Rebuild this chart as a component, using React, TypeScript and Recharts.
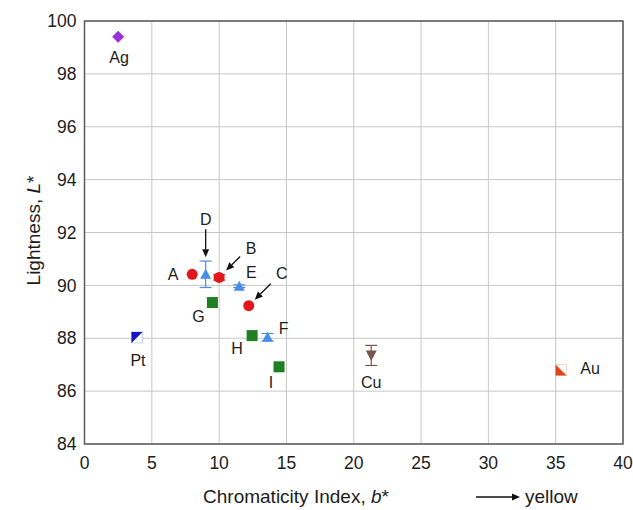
import { ScatterChart, Scatter, XAxis, YAxis, CartesianGrid, ErrorBar, ReferenceArea, Label } from 'recharts';

// b* (x) and L* (y)
const redNames = ['A', 'B', 'C'];
const redB = [8.0, 10.0, 12.2];
const redL = [90.42, 90.3, 89.23];
const redErr = [0, 0.1, 0];

const blueNames = ['D', 'E', 'F'];
const blueB = [9.0, 11.5, 13.6];
const blueL = [90.42, 89.97, 88.04];
const blueErr = [0.5, 0.05, 0.14];

const greenNames = ['G', 'H', 'I'];
const greenB = [9.5, 12.45, 14.45];
const greenL = [89.35, 88.1, 86.92];

const agB = [2.5];
const agL = [99.4];
const ptB = [3.9];
const ptL = [88.03];
const cuB = [21.3];
const cuL = [87.35];
const cuErr = [0.38];
const auB = [35.4];
const auL = [86.8];

const xTicks = [0, 5, 10, 15, 20, 25, 30, 35, 40];
const yTicks = [84, 86, 88, 90, 92, 94, 96, 98, 100];

const toPoints = (names: string[], b: number[], L: number[], err?: number[]) =>
  names.map((name, i) => ({ name, b: b[i], L: L[i], err: err ? err[i] : 0 }));

const redData = toPoints(redNames, redB, redL, redErr);
const blueData = toPoints(blueNames, blueB, blueL, blueErr);
const greenData = toPoints(greenNames, greenB, greenL);
const agData = toPoints(['Ag'], agB, agL);
const ptData = toPoints(['Pt'], ptB, ptL);
const cuData = toPoints(['Cu'], cuB, cuL, cuErr);
const auData = toPoints(['Au'], auB, auL);

// label placement relative to the marker (px)
const labelOffset: Record<string, [number, number]> = {
  A: [-19, 0], B: [32, -29], C: [33, -32], D: [0, -55], E: [12, -14], F: [16, -9],
  G: [-14, 14], H: [-15, 13], I: [-8, 16],
  Ag: [1, 21], Pt: [1, 23], Cu: [0, 27], Au: [29, -1],
};
const arrows: Record<string, [number, number, number, number]> = {
  D: [0, -45, 0, -17],
  B: [21, -21, 7, -7],
  C: [22, -22, 6, -6],
};

const FONT = '"Liberation Sans", Arial, Helvetica, sans-serif';
const TEXT = '#1c1c1c';

function Arrow({ x1, y1, x2, y2 }: { x1: number; y1: number; x2: number; y2: number }) {
  const ang = Math.atan2(y2 - y1, x2 - x1);
  const len = 8, w = 3.5;
  const bx = x2 - len * Math.cos(ang), by = y2 - len * Math.sin(ang);
  const px = -Math.sin(ang) * w, py = Math.cos(ang) * w;
  return (
    <g>
      <line x1={x1} y1={y1} x2={bx} y2={by} stroke="#111" strokeWidth={1.3} />
      <polygon points={`${x2},${y2} ${bx + px},${by + py} ${bx - px},${by - py}`} fill="#111" />
    </g>
  );
}

function Marker(props: any) {
  const { cx, cy, payload, kind, color } = props;
  if (cx == null || cy == null) return null;
  let mark = null;
  if (kind === 'circle') mark = <circle cx={cx} cy={cy} r={5.5} fill={color} />;
  if (kind === 'triUp')
    mark = <polygon points={`${cx},${cy - 5.5} ${cx - 5.5},${cy + 4.5} ${cx + 5.5},${cy + 4.5}`} fill={color} />;
  if (kind === 'triDown')
    mark = <polygon points={`${cx - 5.5},${cy - 5} ${cx + 5.5},${cy - 5} ${cx},${cy + 5.5}`} fill={color} />;
  if (kind === 'square') mark = <rect x={cx - 5.5} y={cy - 5.5} width={11} height={11} fill={color} />;
  if (kind === 'diamond')
    mark = <polygon points={`${cx},${cy - 6} ${cx + 6},${cy} ${cx},${cy + 6} ${cx - 6},${cy}`} fill={color} />;
  if (kind === 'halfUL')
    mark = (
      <g>
        <rect x={cx - 5.5} y={cy - 5.5} width={11} height={11} fill="#fff" stroke="#b8c4f0" strokeWidth={0.8} />
        <polygon points={`${cx - 5.5},${cy - 5.5} ${cx + 5.5},${cy - 5.5} ${cx - 5.5},${cy + 5.5}`} fill={color} />
      </g>
    );
  if (kind === 'halfLL')
    mark = (
      <g>
        <rect x={cx - 5.5} y={cy - 5.5} width={11} height={11} fill="#fff" stroke="#f3c8bb" strokeWidth={0.8} />
        <polygon points={`${cx - 5.5},${cy - 5.5} ${cx + 5.5},${cy + 5.5} ${cx - 5.5},${cy + 5.5}`} fill={color} />
      </g>
    );
  const off = labelOffset[payload.name] || [0, 0];
  const arr = arrows[payload.name];
  return (
    <g>
      {mark}
      {arr && <Arrow x1={cx + arr[0]} y1={cy + arr[1]} x2={cx + arr[2]} y2={cy + arr[3]} />}
      <text
        x={cx + off[0]}
        y={cy + off[1]}
        textAnchor="middle"
        dominantBaseline="central"
        fontSize={16}
        fontFamily={FONT}
        fill={TEXT}
      >
        {payload.name}
      </text>
    </g>
  );
}

const shape = (kind: string, color: string) => (p: any) => <Marker {...p} kind={kind} color={color} />;

export default function App() {
  return (
    <div style={{ position: 'absolute', left: 0, top: 0, width: 633, height: 510, background: '#fff' }}>
      <ScatterChart width={633} height={510} margin={{ top: 21, right: 10, left: 0, bottom: 0 }}>
        <CartesianGrid stroke="#c6c6c6" strokeWidth={1} />
        <XAxis
          type="number"
          dataKey="b"
          domain={[0, 40]}
          ticks={xTicks}
          height={66}
          axisLine={false}
          tickLine={false}
          tickSize={0}
          tickMargin={13}
          tick={{ fontSize: 17.5, fontFamily: FONT, fill: TEXT }}
          interval={0}
        >
          <Label
            content={(p: any) => {
              const vb = p.viewBox || { x: 0, y: 0, width: 0 };
              const y = vb.y + 59;
              return (
                <g fontFamily={FONT} fill={TEXT}>
                  <text x={296} y={y} textAnchor="middle" fontSize={19}>
                    Chromaticity Index, <tspan fontStyle="italic">b</tspan>*
                  </text>
                  <Arrow x1={476} y1={y - 6} x2={520} y2={y - 6} />
                  <text x={525} y={y} fontSize={19}>yellow</text>
                </g>
              );
            }}
          />
        </XAxis>
        <YAxis
          type="number"
          dataKey="L"
          domain={[84, 100]}
          ticks={yTicks}
          width={84.5}
          axisLine={false}
          tickLine={false}
          tickSize={0}
          tickMargin={8}
          tick={{ fontSize: 17.5, fontFamily: FONT, fill: TEXT }}
          interval={0}
        >
          <Label
            content={(p: any) => {
              const vb = p.viewBox || { x: 0, y: 0, height: 0 };
              const cy = vb.y + vb.height / 2 - 2;
              return (
                <text
                  x={33}
                  y={cy}
                  transform={`rotate(-90 33 ${cy})`}
                  textAnchor="middle"
                  dominantBaseline="central"
                  fontSize={19}
                  fontFamily={FONT}
                  fill={TEXT}
                >
                  Lightness, <tspan fontStyle="italic">L</tspan>*
                </text>
              );
            }}
          />
        </YAxis>
        <ReferenceArea x1={0} x2={40} y1={84} y2={100} fill="none" stroke="#5a5a5a" strokeWidth={1.5} ifOverflow="visible" />
        <Scatter data={greenData} shape={shape('square', '#1f7f22')} isAnimationActive={false} />
        <Scatter data={blueData} shape={shape('triUp', '#4a8de6')} isAnimationActive={false}>
          <ErrorBar dataKey="err" direction="y" width={6} stroke="#4a8de6" strokeWidth={1.2} />
        </Scatter>
        <Scatter data={redData} shape={shape('circle', '#e3161c')} isAnimationActive={false}>
          <ErrorBar dataKey="err" direction="y" width={6} stroke="#e3161c" strokeWidth={1.2} />
        </Scatter>
        <Scatter data={agData} shape={shape('diamond', '#9b30d8')} isAnimationActive={false} />
        <Scatter data={ptData} shape={shape('halfUL', '#1515c4')} isAnimationActive={false} />
        <Scatter data={cuData} shape={shape('triDown', '#7b574b')} isAnimationActive={false}>
          <ErrorBar dataKey="err" direction="y" width={6} stroke="#7b574b" strokeWidth={1.2} />
        </Scatter>
        <Scatter data={auData} shape={shape('halfLL', '#e0441c')} isAnimationActive={false} />
      </ScatterChart>
    </div>
  );
}
